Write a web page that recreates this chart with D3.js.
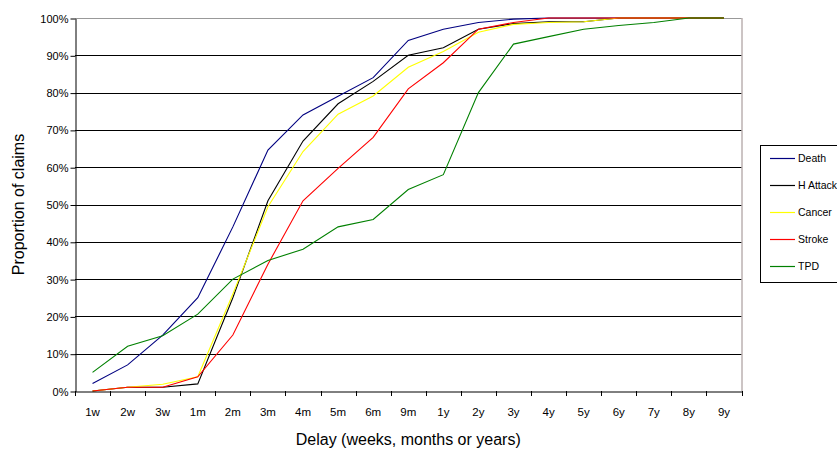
<!DOCTYPE html>
<html><head><meta charset="utf-8">
<script src="https://cdn.jsdelivr.net/npm/d3@7"></script>
<style>body{margin:0;background:#fff}svg{display:block;font-family:"Liberation Sans",Arial,sans-serif}</style>
</head><body><svg id="c" width="837" height="450"></svg>
<script>
const categories = ["1w","2w","3w","1m","2m","3m","4m","5m","6m","9m","1y","2y","3y","4y","5y","6y","7y","8y","9y"];
const death   = [2, 7, 15, 25, 44, 64.6, 74, 79, 84, 94, 97, 98.8, 99.7, 100, 100, 100, 100, 100, 100];
const hAttack = [0, 1, 1, 1.9, 25, 51, 67, 77, 83, 90, 92, 97, 98.5, 99, 99, 100, 100, 100, 100];
const cancer  = [0, 1, 1.8, 3.8, 26, 49.4, 64.2, 74.2, 79.1, 86.8, 91, 96.2, 98.3, 98.8, 99, 100, 100, 100, 100];
const stroke  = [0, 1, 1, 3.8, 15, 34, 51, 59.7, 68, 81, 88, 97, 98.8, 100, 100, 100, 100, 100, 100];
const tpd     = [5, 12, 14.8, 20.6, 30, 35, 38, 44, 46, 54, 58, 80, 93, 95, 97, 98, 98.8, 100, 100];
const yTicks  = [0,10,20,30,40,50,60,70,80,90,100];
const seriesNames = ["Death","H Attack","Cancer","Stroke","TPD"];
const seriesValues = [death, hAttack, cancer, stroke, tpd];
const colors = ["#000080","#000000","#FFFF00","#FF0000","#008000"];

const svg = d3.select("#c");
const L = 75, R = 741.5, T = 18, B = 391;
const x = d3.scaleBand().domain(categories).range([L, R]);
const y = d3.scaleLinear().domain([0,100]).range([B, T]);

// gridlines
svg.append("g").selectAll("line").data(yTicks.slice(1)).join("line")
  .attr("x1", L).attr("x2", R).attr("y1", d=>Math.round(y(d))+0.5).attr("y2", d=>Math.round(y(d))+0.5)
  .attr("stroke", d=>d===100?"#999":"#000").attr("stroke-width",1);
// right border
svg.append("line").attr("x1",R+0.5).attr("x2",R+0.5).attr("y1",T).attr("y2",B)
  .attr("stroke","#998a8a");

// lines
const line = d3.line().x((d,i)=>x(categories[i])+x.bandwidth()/2).y(d=>y(d));
seriesValues.forEach((vals,k)=>{
  svg.append("path").datum(vals).attr("d", line).attr("fill","none")
    .attr("stroke", colors[k]).attr("stroke-width",1.1);
});

// y axis
const yAxis = d3.axisLeft(y).tickValues(yTicks).tickFormat(d=>d+"%").tickSize(5).tickSizeOuter(0);
const gy = svg.append("g").attr("transform",`translate(${L+0.5},0.5)`).call(yAxis);
gy.select(".domain").attr("stroke","#000");
gy.selectAll("text").attr("font-size",11).attr("fill","#000").attr("x",-7).attr("font-family","Liberation Sans, Arial, sans-serif");
// x axis
const xAxis = d3.axisBottom(x).tickSize(0).tickSizeOuter(0);
const gx = svg.append("g").attr("transform",`translate(0,${B+0.5})`).call(xAxis);
gx.select(".domain").attr("stroke","#000");
gx.selectAll("text").attr("font-size",11.5).attr("fill","#000").attr("dy","0.71em").attr("y",16).attr("font-family","Liberation Sans, Arial, sans-serif");
// x tick marks at band boundaries
svg.append("g").selectAll("line").data(categories.concat(["__end"])).join("line")
  .attr("x1",(d,i)=>Math.round(L+i*x.bandwidth())+0.5).attr("x2",(d,i)=>Math.round(L+i*x.bandwidth())+0.5)
  .attr("y1",B).attr("y2",B+5).attr("stroke","#000");

// axis titles
svg.append("text").attr("x",(L+R)/2).attr("y",445).attr("text-anchor","middle")
  .attr("font-size",16).text("Delay (weeks, months or years)");
svg.append("text").attr("transform",`translate(24,${(T+B)/2}) rotate(-90)`).attr("text-anchor","middle")
  .attr("font-size",16).text("Proportion of claims");

// legend
const lg = svg.append("g");
lg.append("rect").attr("x",760.5).attr("y",145.5).attr("width",90).attr("height",137)
  .attr("fill","#fff").attr("stroke","#000");
seriesNames.forEach((n,k)=>{
  const yy = 158 + k*27;
  lg.append("line").attr("x1",770).attr("x2",795).attr("y1",yy+0.5).attr("y2",yy+0.5).attr("stroke",colors[k]).attr("stroke-width",1.2);
  lg.append("text").attr("x",798).attr("y",yy+4).attr("font-size",10.5).text(n);
});
</script></body></html>
